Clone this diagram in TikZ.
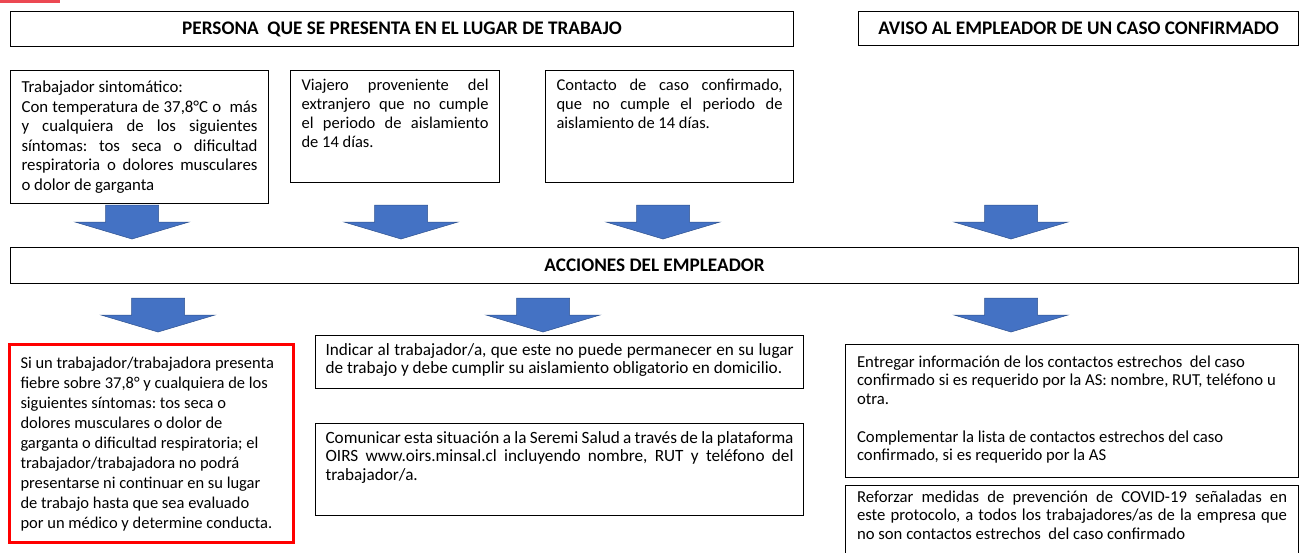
\documentclass[tikz,border=0pt]{standalone}
\usepackage{fontspec}
\setmainfont{Carlito}
\usepackage{xcolor}
\definecolor{arrowblue}{RGB}{68,114,196}
\definecolor{arrowedge}{RGB}{47,82,143}
\definecolor{alertred}{RGB}{255,0,0}
\definecolor{tabred}{RGB}{236,72,82}
\newcommand{\boxtxt}[3]{\parbox[t][#2][t]{#1}{\frenchspacing\strut #3}}

\begin{document}
\begin{tikzpicture}[x=1pt, y=-1pt,
  header/.style={draw=black, line width=1.1pt, anchor=north west, inner sep=0pt,
                 font=\fontsize{19.2}{22}\selectfont\bfseries},
  panel/.style={draw=black, line width=1.1pt, anchor=north west, inner xsep=11pt},
  bodyL/.style={font=\fontsize{16.8}{19.5}\selectfont},
  bodyM/.style={font=\fontsize{16.5}{19}\selectfont},
  bodyS/.style={font=\fontsize{16.7}{18.3}\selectfont},
  bodyW/.style={font=\fontsize{17.2}{18.3}\selectfont},
  blockarrow/.style={fill=arrowblue, draw=arrowedge, line width=0.5pt}]

\clip (0,0) rectangle (1305,552);
\fill[white] (0,0) rectangle (1305,552);
\fill[tabred] (0,0) rectangle (60,3);

% encabezados
\node[header, minimum width=783pt, minimum height=35pt] (persona) at (10,11) {PERSONA\ \ QUE SE PRESENTA EN EL LUGAR DE TRABAJO};
\node[header, minimum width=440pt, minimum height=34pt] (aviso) at (858,11) {AVISO AL EMPLEADOR DE UN CASO CONFIRMADO};
\node[header, minimum width=1288pt, minimum height=36pt] (acciones) at (10,247) {ACCIONES DEL EMPLEADOR};

% casos
\node[panel, bodyL, inner ysep=8.3pt] (sintomatico) at (10,70)
  {\boxtxt{236pt}{116.4pt}{Trabajador sintomático:\\
   Con temperatura de 37,8°C o\ \ más\linebreak
   y cualquiera de los siguientes\linebreak
   síntomas: tos seca o dificultad\linebreak
   respiratoria o dolores musculares\linebreak
   o dolor de garganta}};
\node[panel, bodyM, inner ysep=6.7pt] (viajero) at (290,70)
  {\boxtxt{187pt}{98.6pt}{Viajero proveniente del\linebreak
   extranjero que no cumple\linebreak
   el periodo de aislamiento\linebreak
   de 14 días.}};
\node[panel, bodyM, inner ysep=6.7pt] (contacto) at (545,70)
  {\boxtxt{226pt}{98.6pt}{Contacto de caso confirmado,\linebreak
   que no cumple el periodo de\linebreak
   aislamiento de 14 días.}};

% acciones
\node[panel, draw=alertred, line width=3pt, font=\fontsize{16.5}{20}\selectfont, inner ysep=10pt] (fiebre) at (8,343)
  {\boxtxt{262pt}{178pt}{\raggedright Si un trabajador/trabajadora presenta\\
   fiebre sobre 37,8° y cualquiera de los\\
   siguientes síntomas: tos seca o\\
   dolores musculares o dolor de\\
   garganta o dificultad respiratoria; el\\
   trabajador/trabajadora no podrá\\
   presentarse ni continuar en su lugar\\
   de trabajo hasta que sea evaluado\\
   por un médico y determine conducta.}};
\node[panel, bodyW, inner xsep=10pt, inner ysep=7.2pt] (indicar) at (315,335)
  {\boxtxt{468pt}{38.6pt}{Indicar al trabajador/a, que este no puede permanecer en su lugar\linebreak
   de trabajo y debe cumplir su aislamiento obligatorio en domicilio.}};
\node[panel, bodyW, inner xsep=10pt, inner ysep=7.2pt] (comunicar) at (315,423)
  {\boxtxt{468pt}{77.6pt}{Comunicar esta situación a la Seremi Salud a través de la plataforma\linebreak
   OIRS www.oirs.minsal.cl incluyendo nombre, RUT y teléfono del\linebreak
   trabajador/a.}};
\node[panel, bodyS, inner xsep=11.5pt, inner ysep=10.2pt] (entregar) at (845,344)
  {\boxtxt{430pt}{112.6pt}{\raggedright Entregar información de los contactos estrechos\ \ del caso\\
   confirmado si es requerido por la AS: nombre, RUT, teléfono u\\
   otra.\\[20pt]
   Complementar la lista de contactos estrechos del caso\\
   confirmado, si es requerido por la AS}};
\node[panel, bodyS, inner xsep=11.5pt, inner ysep=4.2pt] (reforzar) at (845,485)
  {\boxtxt{430pt}{92pt}{Reforzar medidas de prevención de COVID-19 señaladas en\linebreak
   este protocolo, a todos los trabajadores/as de la empresa que\linebreak
   no son contactos estrechos\ \ del caso confirmado}};

% flechas de bloque
\foreach \ax/\ay in {132/205, 401/205, 663/205, 1011/205, 158/298, 543/298, 1011/298}
  \draw[blockarrow] (\ax-26.5,\ay) -- (\ax+26.5,\ay) -- (\ax+26.5,\ay+17) -- (\ax+57,\ay+17)
    -- (\ax,\ay+34) -- (\ax-57,\ay+17) -- (\ax-26.5,\ay+17) -- cycle;

\end{tikzpicture}
\end{document}
